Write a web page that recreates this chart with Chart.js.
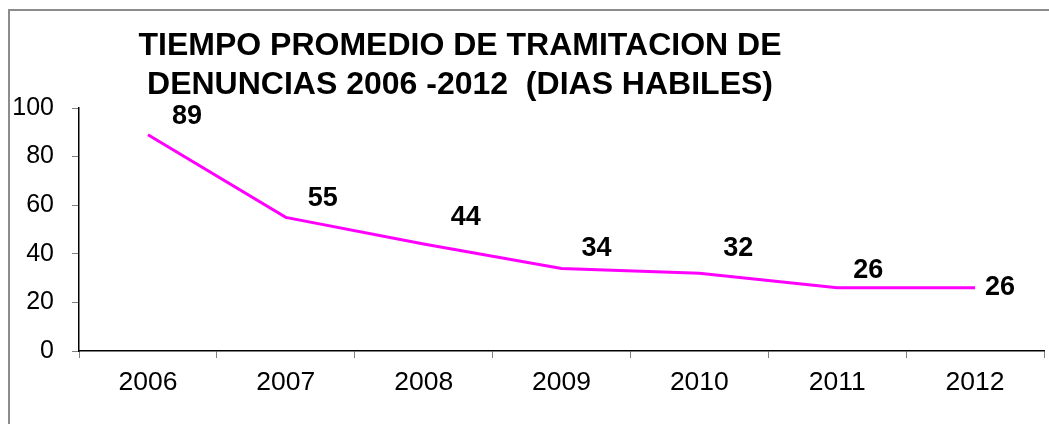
<!DOCTYPE html>
<html>
<head>
<meta charset="utf-8">
<script src="https://cdn.jsdelivr.net/npm/chart.js@4.4.0/dist/chart.umd.min.js"></script>
<style>
  html, body { margin: 0; padding: 0; background: #fff; overflow: hidden; }
  #wrap { position: relative; width: 1049px; height: 424px; }
  #frame {
    position: absolute; left: 8px; top: 9px; width: 1100px; height: 500px;
    border-left: 2px solid #8c8c8c; border-top: 2px solid #8c8c8c;
    pointer-events: none;
  }
</style>
</head>
<body>
<div id="wrap">
  <canvas id="lineChart" width="1049" height="424"></canvas>
  <div id="frame"></div>
</div>
<script>
const years = ["2006", "2007", "2008", "2009", "2010", "2011", "2012"];
const days = [89, 55, 44, 34, 32, 26, 26];
const yTicks = [0, 20, 40, 60, 80, 100];
const titleLines = ["TIEMPO PROMEDIO DE TRAMITACION DE", "DENUNCIAS 2006 -2012  (DIAS HABILES)"];
// where each value label sits relative to its point (px)
const labelOffsets = [[39, -18], [37, -19], [42, -27], [35, -20], [39, -25], [31, -17], [25, 0]];

const titlePlugin = {
  id: "titleText",
  afterDraw(chart) {
    const c = chart.ctx;
    c.save();
    c.fillStyle = "#000";
    c.font = "bold 32px 'Liberation Sans', Arial, sans-serif";
    c.textAlign = "center";
    c.textBaseline = "middle";
    c.fillText(titleLines[0], 460, 46);
    c.fillText(titleLines[1], 460, 85);
    c.restore();
  }
};

const valueLabels = {
  id: "valueLabels",
  afterDatasetsDraw(chart) {
    const c = chart.ctx;
    const meta = chart.getDatasetMeta(0);
    c.save();
    c.fillStyle = "#000";
    c.font = "bold 27px 'Liberation Sans', Arial, sans-serif";
    c.textAlign = "center";
    c.textBaseline = "middle";
    meta.data.forEach(function (pt, i) {
      const off = labelOffsets[i];
      c.fillText(String(days[i]), pt.x + off[0], pt.y + off[1]);
    });
    c.restore();
  }
};

document.addEventListener("DOMContentLoaded", function () {
  const ctx = document.getElementById("lineChart").getContext("2d");
  new Chart(ctx, {
    type: "line",
    data: {
      labels: years,
      datasets: [
        {
          label: "Dias",
          data: days,
          borderColor: "#ff00ff",
          backgroundColor: "#ff00ff",
          borderWidth: 3,
          pointRadius: 0,
          tension: 0,
        },
      ],
    },
    options: {
      responsive: false,
      animation: false,
      layout: { padding: { top: 108, right: 5, bottom: 0, left: 0 } },
      plugins: { legend: { display: false }, tooltip: { enabled: false } },
      scales: {
        x: {
          offset: true,
          grid: { drawOnChartArea: false, offset: true, color: "#808080", tickLength: 7 },
          border: { color: "#000", width: 1.5 },
          ticks: {
            color: "#000",
            font: { family: "'Liberation Sans', Arial, sans-serif", size: 26.5 },
            padding: 9,
            maxRotation: 0,
          },
          afterFit(scale) { scale.height = 73; },
        },
        y: {
          min: 0,
          max: 100,
          afterBuildTicks(scale) { scale.ticks = yTicks.map(v => ({ value: v })); },
          grid: { drawOnChartArea: false, color: "#808080", tickLength: 7 },
          border: { color: "#000", width: 1.5 },
          ticks: {
            color: "#000",
            font: { family: "'Liberation Sans', Arial, sans-serif", size: 25 },
            padding: 18,
          },
          afterFit(scale) { scale.width = 79; },
        },
      },
    },
    plugins: [titlePlugin, valueLabels],
  });
});
</script>
</body>
</html>
